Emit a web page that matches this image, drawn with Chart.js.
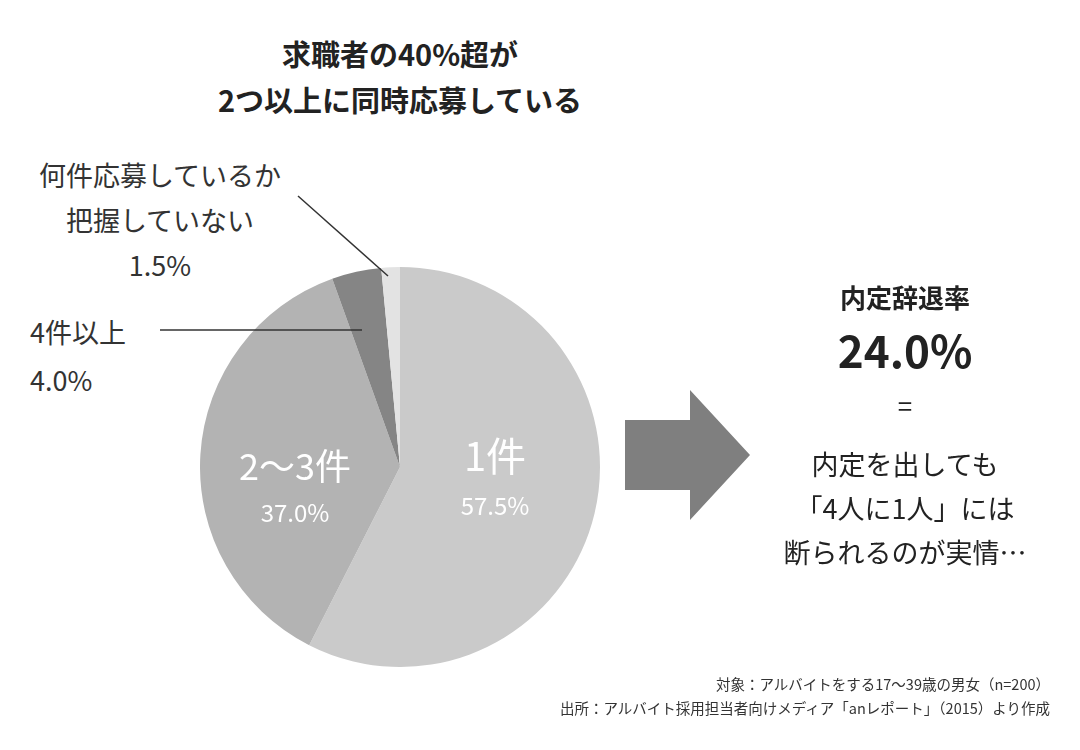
<!DOCTYPE html>
<html><head><meta charset="utf-8">
<script src="https://cdn.jsdelivr.net/npm/chart.js@4"></script>
<style>
body{margin:0;width:1080px;height:750px;background:#fff;font-family:"Noto Sans CJK JP","Noto Sans",sans-serif;position:relative;overflow:hidden;color:#222}
.t{position:absolute;white-space:nowrap}
.r{position:absolute;left:770px;width:270px;text-align:center;white-space:nowrap}
#pieBox{position:absolute;left:200px;top:267px;width:400px;height:400px}
</style></head><body>
<div class="t" style="left:0;width:800px;top:30px;text-align:center;font-size:29px;font-weight:bold;line-height:46px">求職者の40%超が<br>2つ以上に同時応募している</div>
<div class="t" style="left:20px;width:280px;top:152px;text-align:center;font-size:27px;line-height:45px;color:#333">何件応募しているか<br>把握していない<br>1.5%</div>
<div class="t" style="left:30px;top:308px;font-size:27px;line-height:48px;color:#333">4件以上<br>4.0%</div>
<div id="pieBox"><canvas id="pie"></canvas></div>
<div class="t" style="left:200px;width:190px;top:438px;text-align:center;color:#fff"><div style="font-size:36px">2～3件</div><div style="font-size:24px;margin-top:4px">37.0%</div></div>
<div class="t" style="left:400px;width:190px;top:425px;text-align:center;color:#fff"><div style="font-size:40px">1件</div><div style="font-size:24px;margin-top:4px">57.5%</div></div>
<svg class="t" style="left:0;top:0" width="1080" height="750">
<line x1="160" y1="330" x2="362" y2="330" stroke="#333" stroke-width="1.5"/>
<line x1="298" y1="196" x2="388" y2="276" stroke="#333" stroke-width="1.5"/>
<polygon points="625,420 690,420 690,390 750,455 690,520 690,490 625,490" fill="#7f7f7f"/>
</svg>
<div class="r" style="top:280px;font-size:26px;line-height:34px;font-weight:bold">内定辞退率</div>
<div class="r" style="top:322px;font-size:44px;line-height:54px;font-weight:bold">24.0%</div>
<div class="r" style="top:390px;font-size:26px;line-height:30px">=</div>
<div class="r" style="top:442px;font-size:27px;line-height:44px">内定を出しても<br>「4人に1人」には<br>断られるのが実情…</div>
<div class="t" style="right:30px;top:672px;text-align:right;font-size:14.5px;line-height:24px;color:#333">対象：アルバイトをする17～39歳の男女（n=200）<br>出所：アルバイト採用担当者向けメディア「anレポート」（2015）より作成</div>
<script>
const categories = ['1件', '2～3件', '4件以上', '何件応募しているか把握していない'];
const shares = [57.5, 37.0, 4.0, 1.5];
const sliceColors = ['#cacaca', '#b3b3b3', '#858585', '#e3e3e3'];

new Chart(document.getElementById('pie'), {
    type: 'pie',
    data: {
        labels: categories,
        datasets: [{ data: shares, backgroundColor: sliceColors, borderWidth: 0 }]
    },
    options: {
        responsive: true,
        maintainAspectRatio: false,
        animation: false,
        layout: { padding: 0 },
        plugins: { legend: { display: false }, tooltip: { enabled: false } }
    }
});
</script>
</body></html>
